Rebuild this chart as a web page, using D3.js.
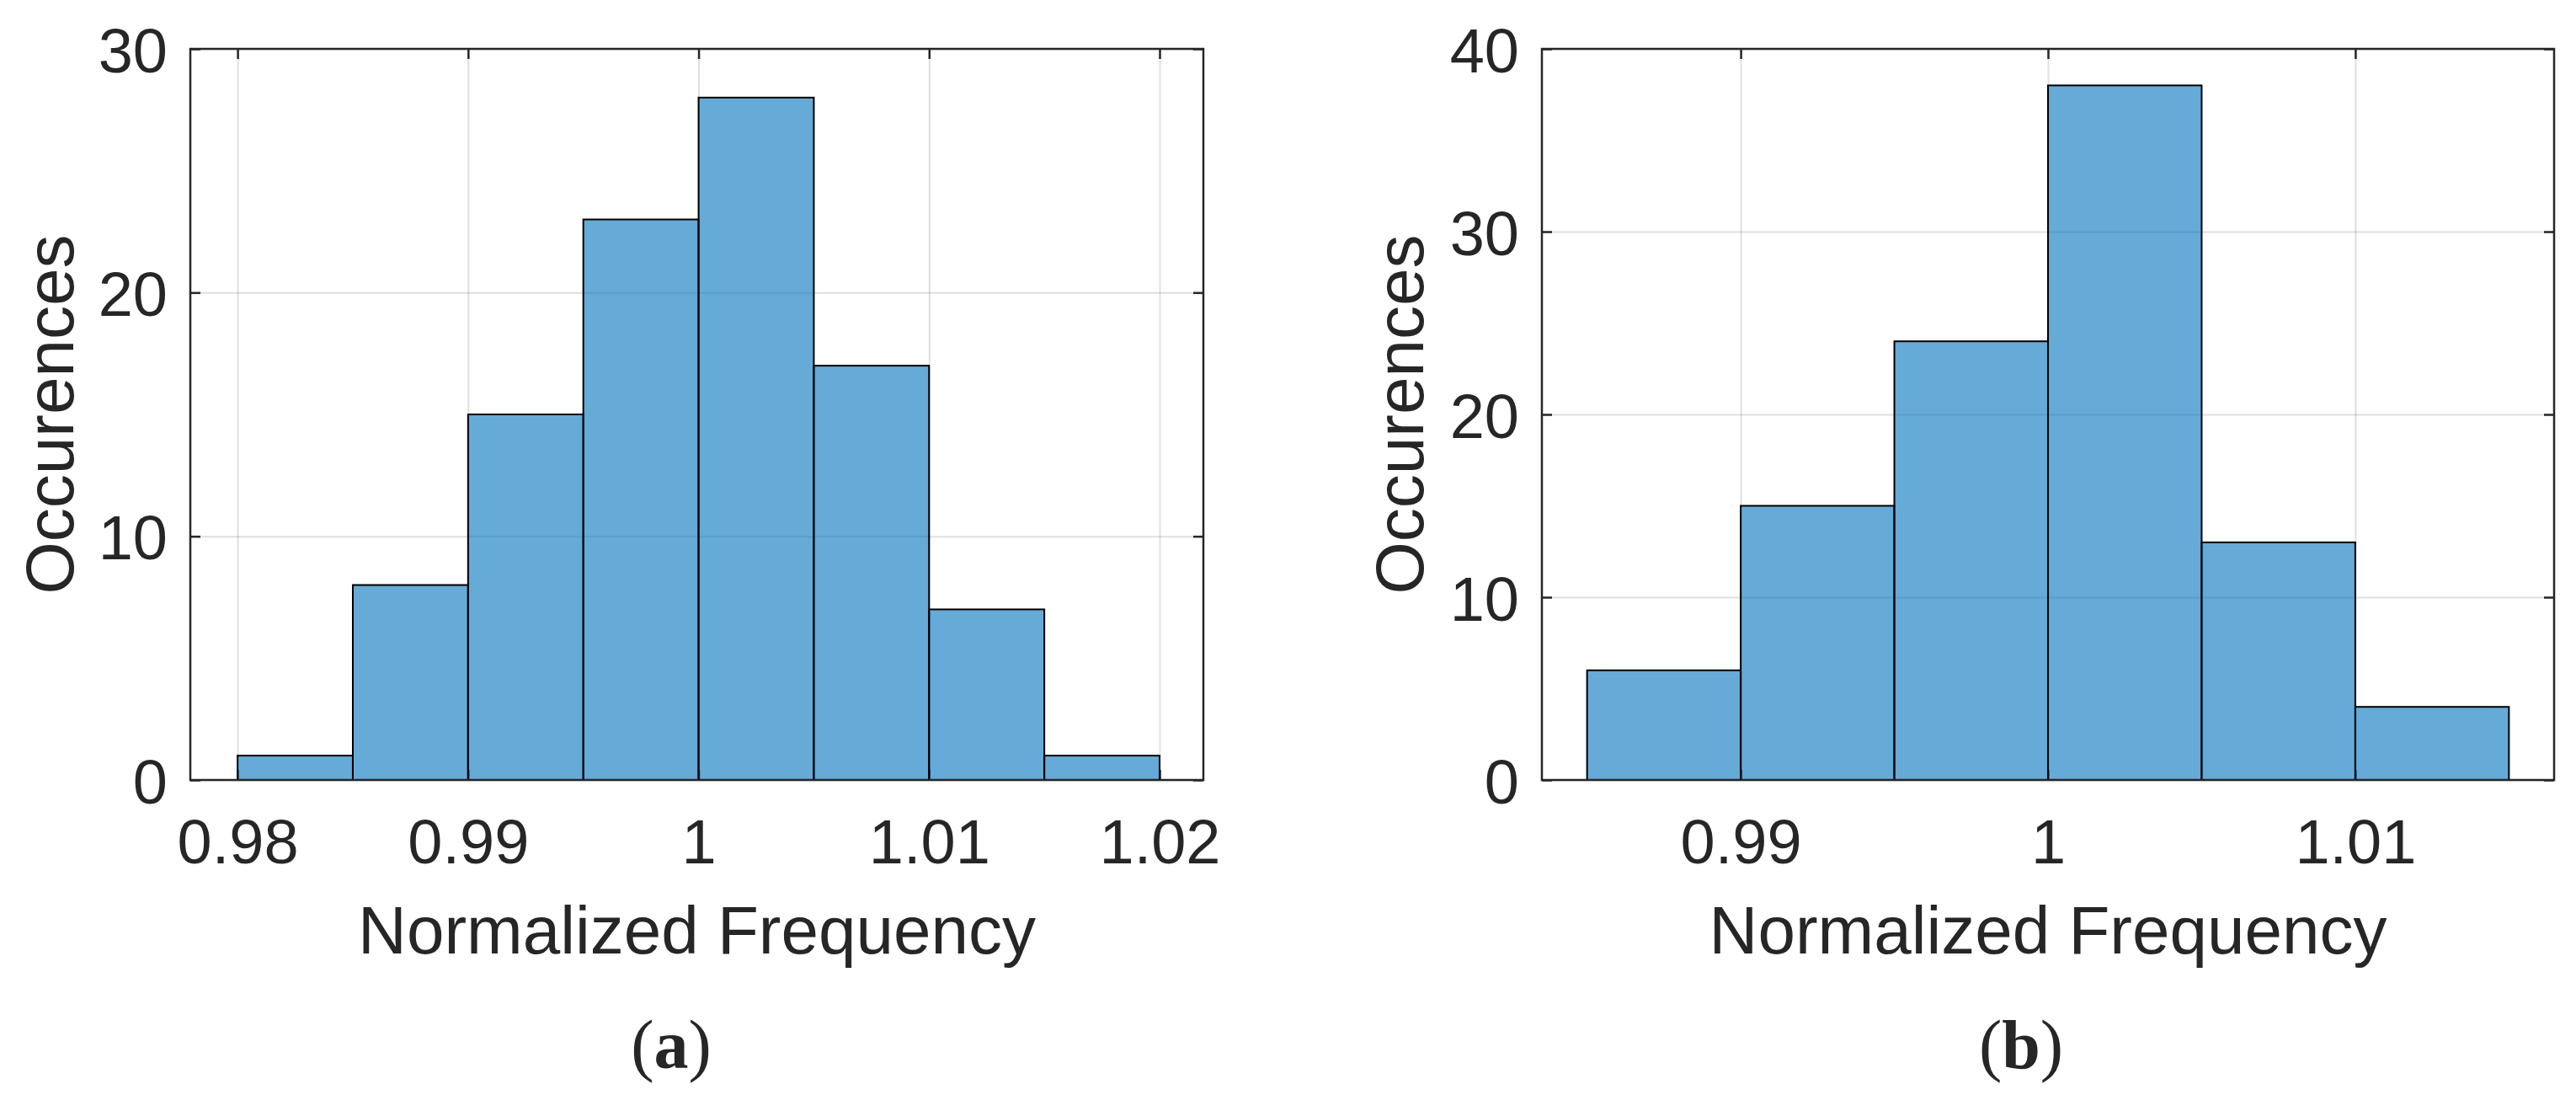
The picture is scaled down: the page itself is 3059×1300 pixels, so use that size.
<!DOCTYPE html>
<html>
<head>
<meta charset="utf-8">
<script src="https://cdn.jsdelivr.net/npm/d3@7"></script>
<style>
  body { margin: 0; background: #fff; }
  text { font-family: "Liberation Sans", Arial, sans-serif; fill: #262626; }
</style>
</head>
<body>
<div id="chart"></div>
<script>
// Panel (a) histogram
var binStartsA = [0.980, 0.985, 0.990, 0.995, 1.000, 1.005, 1.010, 1.015];
var countsA    = [1, 8, 15, 23, 28, 17, 7, 1];
var xTicksA    = [0.98, 0.99, 1, 1.01, 1.02];
var xLabelsA   = ["0.98", "0.99", "1", "1.01", "1.02"];
var yTicksA    = [0, 10, 20, 30];

// Panel (b) histogram
var binStartsB = [0.985, 0.990, 0.995, 1.000, 1.005, 1.010];
var countsB    = [6, 15, 24, 38, 13, 4];
var xTicksB    = [0.99, 1, 1.01];
var xLabelsB   = ["0.99", "1", "1.01"];
var yTicksB    = [0, 10, 20, 30, 40];

var binWidth = 0.005;

var W = 3059, H = 1300;
var svg = d3.select("#chart").append("svg")
  .attr("width", W).attr("height", H);
svg.append("rect").attr("width", W).attr("height", H).attr("fill", "#fff");

// "top" is taken by window.top, so use other names
var plotTop = 58, plotBottom = 926;
var tickLen = 12;

function drawPanel(opt) {
  var x = d3.scaleLinear().domain(opt.xDomain).range([opt.left, opt.right]);
  var y = d3.scaleLinear().domain(opt.yDomain).range([plotBottom, plotTop]);
  var g = svg.append("g");
  var h = plotBottom - plotTop, w = opt.right - opt.left;

  // grid lines
  g.append("g").attr("transform", "translate(0," + plotBottom + ")")
    .call(d3.axisBottom(x).tickValues(opt.xTicks).tickSize(-h).tickFormat(""))
    .call(function(a) { a.select(".domain").remove(); })
    .selectAll("line").attr("stroke", "#262626").attr("stroke-opacity", 0.15).attr("stroke-width", 2);
  g.append("g").attr("transform", "translate(" + opt.left + ",0)")
    .call(d3.axisLeft(y).tickValues(opt.yTicks).tickSize(-w).tickFormat(""))
    .call(function(a) { a.select(".domain").remove(); })
    .selectAll("line").attr("stroke", "#262626").attr("stroke-opacity", 0.15).attr("stroke-width", 2);

  // inward ticks on all four sides
  var axes = [
    [d3.axisBottom(x).tickValues(opt.xTicks), "translate(0," + plotBottom + ")"],
    [d3.axisTop(x).tickValues(opt.xTicks), "translate(0," + plotTop + ")"],
    [d3.axisLeft(y).tickValues(opt.yTicks), "translate(" + opt.left + ",0)"],
    [d3.axisRight(y).tickValues(opt.yTicks), "translate(" + opt.right + ",0)"]
  ];
  axes.forEach(function(a) {
    g.append("g").attr("transform", a[1])
      .call(a[0].tickSize(-tickLen).tickFormat(""))
      .call(function(s) { s.select(".domain").remove(); })
      .selectAll("line").attr("stroke", "#262626").attr("stroke-width", 2.5);
  });

  // bars
  g.append("g").selectAll("rect")
    .data(opt.counts)
    .enter().append("rect")
    .attr("x", function(d, i) { return x(opt.bins[i]); })
    .attr("width", function(d, i) { return x(opt.bins[i] + binWidth) - x(opt.bins[i]); })
    .attr("y", function(d) { return y(d); })
    .attr("height", function(d) { return y(0) - y(d); })
    .attr("fill", "#0072BD")
    .attr("fill-opacity", 0.6)
    .attr("stroke", "#000")
    .attr("stroke-width", 2);

  // box
  g.append("rect")
    .attr("x", opt.left).attr("y", plotTop).attr("width", w).attr("height", h)
    .attr("fill", "none").attr("stroke", "#262626").attr("stroke-width", 2.5);

  // tick labels
  var xa = g.append("g").attr("transform", "translate(0," + plotBottom + ")")
    .call(d3.axisBottom(x).tickValues(opt.xTicks).tickSize(0)
      .tickFormat(function(d, i) { return opt.xLabels[i]; }));
  xa.select(".domain").remove();
  xa.selectAll("text").attr("y", 99).attr("dy", null)
    .style("font-size", "74px").attr("fill", "#262626");

  var ya = g.append("g").attr("transform", "translate(" + opt.left + ",0)")
    .call(d3.axisLeft(y).tickValues(opt.yTicks).tickSize(0));
  ya.select(".domain").remove();
  ya.selectAll("text").attr("x", -27).attr("y", 27).attr("dy", null)
    .style("font-size", "74px").attr("fill", "#262626");

  // axis titles
  g.append("text")
    .attr("x", (opt.left + opt.right) / 2).attr("y", 1132)
    .attr("text-anchor", "middle").style("font-size", "80px")
    .text("Normalized Frequency");
  g.append("text")
    .attr("transform", "translate(" + opt.yTitleX + "," + ((plotTop + plotBottom) / 2) + ") rotate(-90)")
    .attr("text-anchor", "middle").style("font-size", "80px")
    .text("Occurences");

  // caption
  var cap = g.append("text")
    .attr("x", opt.capX).attr("y", 1268)
    .attr("text-anchor", "middle")
    .style("font-family", "'Liberation Serif', 'DejaVu Serif', serif")
    .style("font-size", "82px").attr("fill", "#000");
  cap.append("tspan").text("(");
  cap.append("tspan").style("font-weight", "bold").text(opt.cap);
  cap.append("tspan").text(")");
}

drawPanel({
  left: 226, right: 1429,
  xDomain: [0.97795, 1.0219], yDomain: [0, 30],
  bins: binStartsA, counts: countsA,
  xTicks: xTicksA, xLabels: xLabelsA, yTicks: yTicksA,
  yTitleX: 87, capX: 797, cap: "a"
});

drawPanel({
  left: 1831, right: 3033,
  xDomain: [0.98353, 1.01647], yDomain: [0, 40],
  bins: binStartsB, counts: countsB,
  xTicks: xTicksB, xLabels: xLabelsB, yTicks: yTicksB,
  yTitleX: 1690, capX: 2400, cap: "b"
});
</script>
</body>
</html>
